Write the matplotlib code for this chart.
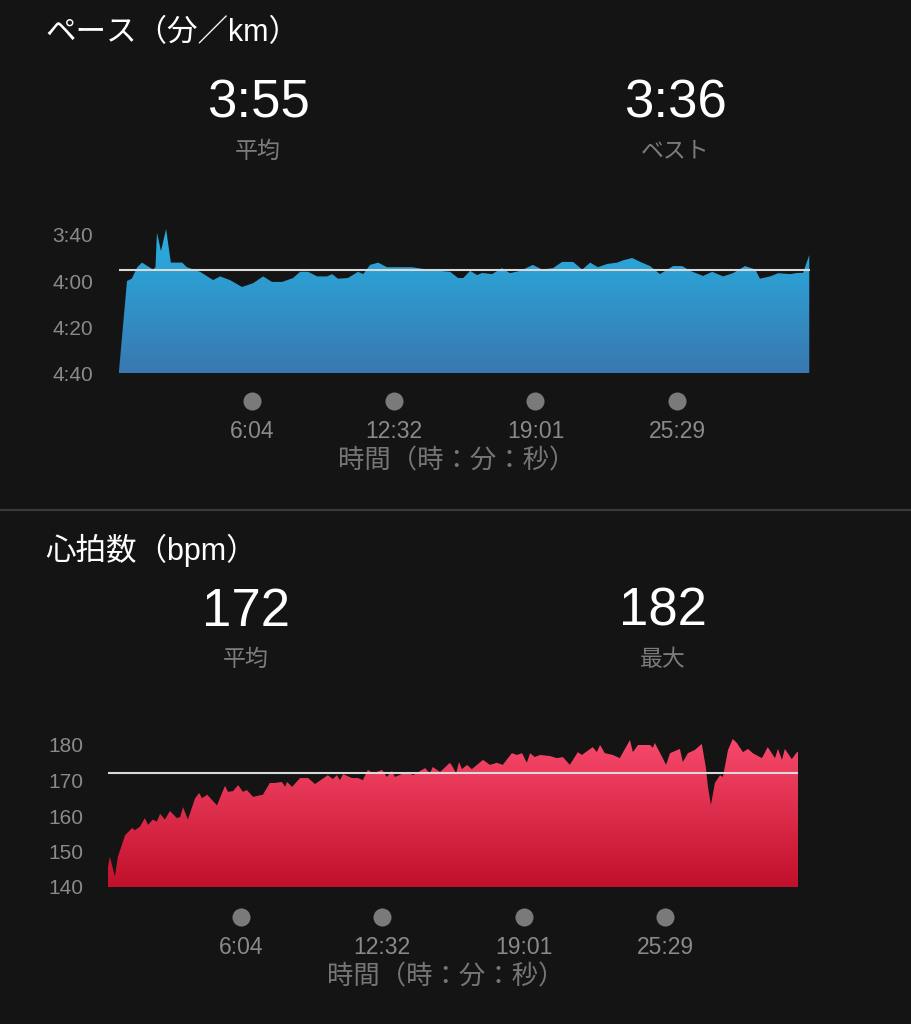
import numpy as np
import matplotlib.pyplot as plt
from matplotlib.colors import LinearSegmentedColormap
from matplotlib.patches import Polygon
from matplotlib import transforms

plt.rcParams['font.family'] = ['Liberation Sans', 'Noto Sans CJK JP', 'DejaVu Sans']

# pace (sec per km) against elapsed time (sec)
pace_t = [0, 22, 35, 50, 63, 93, 100, 104, 115, 129, 142, 173, 186, 222, 258, 277,
          304, 337, 367, 395, 419, 447, 477, 496, 518, 543, 570, 584, 600, 627, 655,
          669, 688, 710, 734, 751, 789, 803, 844, 871, 907, 929, 943, 962, 981, 995,
          1022, 1049, 1071, 1099, 1134, 1159, 1189, 1214, 1244, 1269, 1291, 1312,
          1337, 1365, 1381, 1406, 1428, 1455, 1482, 1518, 1543, 1565, 1600, 1625,
          1655, 1682, 1715, 1743, 1756, 1784, 1806, 1839, 1858, 1874, 1891]
pace_v = [279, 240, 239, 234, 232, 235, 234, 219, 227, 217.4, 232, 232, 234, 236,
          239.6, 238, 239.6, 242.6, 241, 238, 240.4, 240.4, 238.7, 236, 236, 238, 238,
          237, 239, 238.7, 236, 237, 233, 232, 234, 234, 234, 234, 235, 235.5, 236,
          238.7, 238.7, 235.6, 237.4, 236.5, 237, 234.4, 236.6, 235.6, 233, 235, 234.4,
          231.7, 231.7, 235, 232, 234, 232.6, 232, 231, 230, 231.7, 233.5, 237, 233.5,
          233.5, 235.6, 237.8, 236, 238, 236.6, 233.5, 235, 239, 238, 236.6, 237,
          236.5, 236.5, 228.7]
pace_avg = 235
pace_ticks = [220, 240, 260, 280]
pace_tick_labels = ['3:40', '4:00', '4:20', '4:40']

# heart rate (bpm) against elapsed time (sec)
hr_t = [0, 5, 19, 27, 47, 66, 74, 88, 101, 110, 123, 134, 143, 156, 170, 189, 198,
        206, 219, 239, 250, 258, 272, 299, 321, 329, 343, 357, 370, 381, 398, 425,
        444, 458, 477, 486, 491, 505, 527, 549, 568, 603, 617, 628, 636, 645, 669,
        686, 699, 713, 727, 752, 765, 779, 787, 820, 837, 870, 883, 891, 911, 938,
        946, 955, 963, 971, 985, 998, 1029, 1048, 1067, 1083, 1108, 1122, 1136,
        1149, 1158, 1171, 1185, 1212, 1232, 1248, 1267, 1289, 1300, 1330, 1341,
        1350, 1363, 1385, 1404, 1432, 1440, 1454, 1487, 1495, 1500, 1522, 1531,
        1542, 1569, 1577, 1591, 1610, 1629, 1640, 1646, 1654, 1665, 1679, 1687,
        1701, 1714, 1725, 1742, 1756, 1769, 1794, 1810, 1830, 1838, 1849, 1857,
        1876, 1890, 1893]
hr_v = [145.6, 148.5, 143, 148.5, 154.6, 156.6, 156, 157, 159.4, 157.5, 159, 158.4,
        160.6, 159, 161.4, 159.4, 159.7, 162.5, 159, 165, 166.5, 165, 166, 163,
        168.5, 166.8, 167, 168.7, 166.8, 167.3, 165.4, 166, 169.3, 169.3, 169.6,
        168.2, 169.6, 168.2, 170.7, 170.7, 169, 171.5, 170.4, 171.5, 170.1, 171.8,
        170.7, 170.7, 170.1, 173, 172, 173, 171, 172.7, 171, 172.4, 171.5, 173.5,
        172, 173.8, 172.4, 175, 173.8, 172, 175.2, 173.2, 174.4, 173.2, 175.8, 174.4,
        175, 174.4, 177.7, 177.2, 177.7, 175, 177.7, 176.6, 177.2, 176.9, 176.3,
        176.6, 174.4, 178, 177.2, 179.4, 178, 180, 177.7, 177.2, 176.3, 181.4, 178,
        180, 180, 179.2, 180.6, 176.3, 174.4, 177.7, 178.9, 175.2, 177.7, 178.6,
        180.3, 173.8, 168.2, 163.1, 169.3, 171.5, 171, 178.6, 181.7, 180.6, 178,
        178.9, 177.7, 176.3, 179.4, 176.3, 178.9, 175.8, 178.9, 176, 178, 178]
hr_avg = 172
hr_ticks = [140, 150, 160, 170, 180]

# time axis
total_secs = 1893
time_ticks = [364, 752, 1141, 1529]
time_labels = ['6:04', '12:32', '19:01', '25:29']

BG = '#141414'
GRAY = '#8a8a8a'

fig = plt.figure(figsize=(9.12, 10.24), dpi=100, facecolor=BG)
W, H = 912, 1024


def px_axes(x0, y0, x1, y1):
    ax = fig.add_axes([x0 / W, 1 - y1 / H, (x1 - x0) / W, (y1 - y0) / H])
    ax.set_facecolor(BG)
    for s in ax.spines.values():
        s.set_visible(False)
    return ax


def gradient_area(ax, t, v, base, top, c_top, c_bottom):
    verts = [(t[0], base)] + list(zip(t, v)) + [(t[-1], base)]
    poly = Polygon(verts, closed=True, facecolor='none', edgecolor='none')
    ax.add_patch(poly)
    cmap = LinearSegmentedColormap.from_list('g', [c_bottom, c_top])
    grad = np.linspace(0, 1, 256).reshape(-1, 1)
    im = ax.imshow(grad, extent=[t[0], t[-1], base, top], origin='lower',
                   aspect='auto', cmap=cmap, zorder=1)
    im.set_clip_path(poly)


def time_axis(ax, dot_dy, lab_dy):
    base = transforms.blended_transform_factory(ax.transData, ax.transAxes)
    dot_tr = base + transforms.ScaledTranslation(0, -dot_dy / 100, fig.dpi_scale_trans)
    lab_tr = base + transforms.ScaledTranslation(0, -lab_dy / 100, fig.dpi_scale_trans)
    ax.plot(time_ticks, [0] * len(time_ticks), 'o', ms=13, color='#7a7a7a',
            mec='none', transform=dot_tr, clip_on=False)
    for s, lab in zip(time_ticks, time_labels):
        ax.text(s, 0, lab, transform=lab_tr, ha='center', va='center',
                fontsize=16.5, color=GRAY)


def header(title, ty, stats):
    fig.text(45 / W, 1 - ty / H, title, color='white', fontsize=22,
             ha='left', va='center')
    for x, y, val, lab in stats:
        fig.text(x / W, 1 - y / H, val, color='white', fontsize=38,
                 ha='center', va='center')
        fig.text(x / W, 1 - (y + 47) / H, lab, color='#7c7c7c', fontsize=16.5,
                 ha='center', va='center')


# ---- pace ----
header('ペース（分／km）', 33, [(258, 104, '3:55', '平均'), (675, 104, '3:36', 'ベスト')])
ax1 = px_axes(119, 223.5, 810, 373)
gradient_area(ax1, pace_t, pace_v, 280, 215, '#27b2e4', '#3978b0')
ax1.axhline(pace_avg, color='#d9d9d9', lw=1.5, zorder=3)
ax1.set_xlim(0, total_secs)
ax1.set_ylim(280, 215)
ax1.set_xticks([])
ax1.set_yticks(pace_ticks, pace_tick_labels)
ax1.tick_params(axis='y', length=0, pad=18.5, labelsize=15, labelcolor=GRAY)
time_axis(ax1, 28, 58)
fig.text(457 / W, 1 - 461 / H, '時間（時：分：秒）', color='#767676', fontsize=19,
         ha='center', va='center')

# separator
fig.add_artist(plt.Line2D([0, 1], [1 - 509.5 / H] * 2, color='#3a3a3a', lw=1.5))

# ---- heart rate ----
header('心拍数（bpm）', 550, [(246, 612, '172', '平均'), (663, 612, '182', '最大')])
ax2 = px_axes(108, 730.8, 798, 887)
gradient_area(ax2, hr_t, hr_v, 140, 184, '#fb4d70', '#c1102b')
ax2.axhline(hr_avg, color='#d9d9d9', lw=1.5, zorder=3)
ax2.set_xlim(0, total_secs)
ax2.set_ylim(140, 184)
ax2.set_xticks([])
ax2.set_yticks(hr_ticks, [str(v) for v in hr_ticks])
ax2.tick_params(axis='y', length=0, pad=18, labelsize=15, labelcolor=GRAY)
time_axis(ax2, 30, 60)
fig.text(446 / W, 1 - 977 / H, '時間（時：分：秒）', color='#767676', fontsize=19,
         ha='center', va='center')

fig.savefig('out.png', dpi=100, facecolor=BG)
